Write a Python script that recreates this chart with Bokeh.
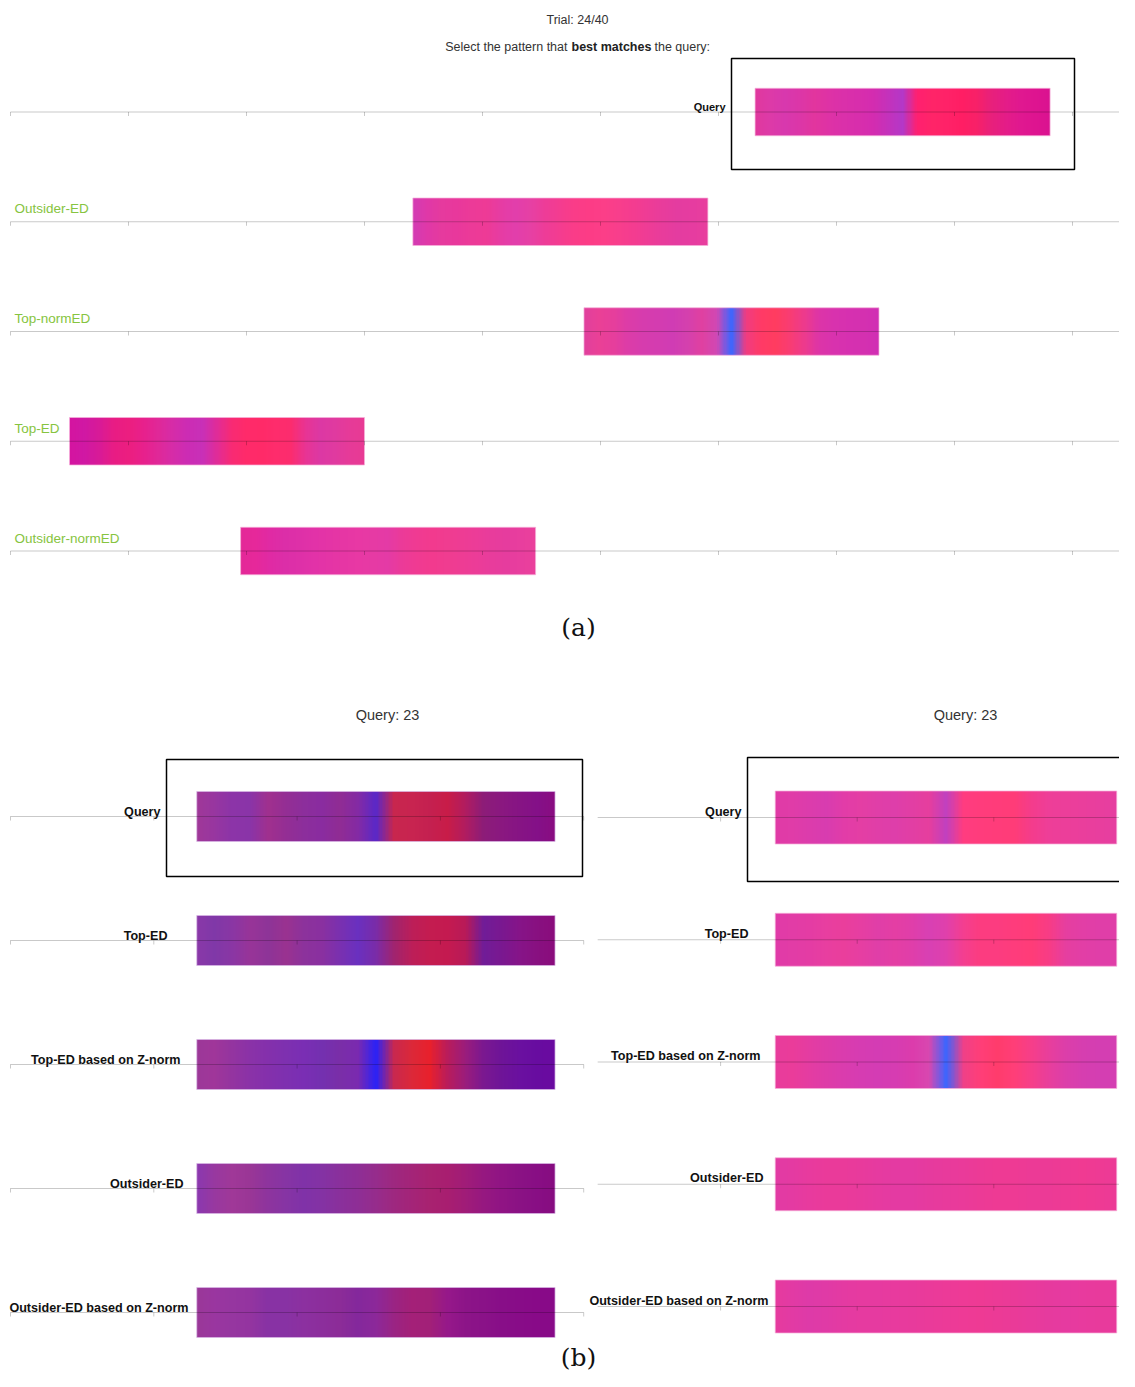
import numpy as np
from bokeh.plotting import figure
from bokeh.models import Range1d
from bokeh.core.properties import value
from bokeh.embed import file_html
from bokeh.resources import INLINE

# ---------------- data ----------------
TRIAL_TEXT = "Trial: 24/40"
QUERY_TITLE = "Query: 23"

# panel (a): rows top to bottom
A_LABELS = ["Query", "Outsider-ED", "Top-normED", "Top-ED", "Outsider-normED"]
A_STARTS = [631, 341, 486, 50, 195]
A_LENGTH = 250
A_TICKS = [0, 100, 200, 300, 400, 500, 600, 700, 800, 900]
A_AXIS_END = 953

A_COLORS = [
    # Query
    ["#E0389E", "#DD3AA8", "#D838AE", "#DC36A8", "#E2359E", "#DE32A6", "#DA30AA",
     "#D82EAC", "#D42CB0", "#C432BC", "#B438C8", "#FF2070", "#FF2468", "#FF2268",
     "#FF1E64", "#F82068", "#E8207C", "#E41C88", "#E01890", "#DE1490", "#DA1290"],
    # Outsider-ED
    ["#D23CB4", "#E038A8", "#E63A9E", "#E8389C", "#EC3A98", "#EE3A96", "#E63CA4",
     "#E23EAC", "#E640A4", "#EE3C98", "#F43C90", "#FA3C88", "#FC3C86", "#FC3E88",
     "#F83E8C", "#F43C90", "#EE3C96", "#E83C9C", "#E43CA0", "#E63CA0", "#E83E9E"],
    # Top-normED
    ["#E0409E", "#EA4096", "#E63E9C", "#DC3CA8", "#D63CAE", "#D43CB0", "#D03CB4",
     "#D440AE", "#E040A0", "#D048B4", "#3C66FF", "#F03C80", "#FF3A66", "#FF3C60",
     "#F83C74", "#EC3A8E", "#DC34A8", "#D832AE", "#D630B0", "#D430B0", "#D02EB4"],
    # Top-ED
    ["#D414A0", "#D018A4", "#D81A98", "#E81C84", "#EC1E80", "#E8208C", "#E02898",
     "#D62CA8", "#CC2CB4", "#C830B8", "#E02C98", "#F82A74", "#FF2A6A", "#FF2A68",
     "#FE2C6C", "#FC2C6E", "#E83494", "#DC38A4", "#E03AA0", "#E63A98", "#E83A94"],
    # Outsider-normED
    ["#E42898", "#E6289A", "#E02AA4", "#DC2EA8", "#DE30A8", "#E232A8", "#E434A6",
     "#E636A4", "#E838A4", "#E63AA4", "#E43AA6", "#EC3A98", "#F03A92", "#F23A8E",
     "#F03C90", "#EE3C94", "#EC3C98", "#E83C9C", "#E63C9E", "#E83E9E", "#EA409C"],
]

# panel (b): rows top to bottom (same labels in both columns)
B_LABELS = ["Query", "Top-ED", "Top-ED based on Z-norm", "Outsider-ED",
            "Outsider-ED based on Z-norm"]
BL_START = 130
BR_START = 140
B_LENGTH = 250
BL_TICKS = [0, 100, 200, 300, 400]
BR_TICKS = [100, 200, 300, 400]
BL_AXIS = (0, 400)
BR_AXIS = (10, 410)

BL_COLORS = [
    # Query
    ["#A03898", "#9836A0", "#8C34A8", "#8A34A8", "#A0308E", "#942E94", "#8C2E9C",
     "#8A2CA0", "#902C94", "#842AA4", "#5A28C8", "#C8264E", "#C82450", "#C42050",
     "#C81C48", "#B01C60", "#8C1C78", "#8A1880", "#861484", "#841088", "#8A0C80"],
    # Top-ED
    ["#8A38A8", "#8038A8", "#8A36A4", "#983498", "#8E3498", "#9A3290", "#8C329C",
     "#8A30A0", "#7A30B0", "#6A30C0", "#7A2CA8", "#A02470", "#BC1E58", "#C41C50",
     "#C41A50", "#B81A58", "#701C98", "#7A1890", "#861488", "#881080", "#8A0C7C"],
    # Top-ED based on Z-norm
    ["#9C3898", "#A0369A", "#9434A0", "#8A32A8", "#8430AC", "#7E30B0", "#7A2EB4",
     "#7430B0", "#7A2EA8", "#7A2AB0", "#2A22F8", "#C82850", "#DC2838", "#E8202C",
     "#B81C5C", "#9A1C7C", "#7A1890", "#6E1498", "#6A10A0", "#680CA0", "#6A0AA0"],
    # Outsider-ED
    ["#8A38B0", "#9838A0", "#A03898", "#9A3696", "#8E349E", "#8634A4", "#8032A8",
     "#8432A4", "#8A309C", "#8E2E96", "#962C8C", "#9E2880", "#A42478", "#A82270",
     "#A81E70", "#A01C78", "#961880", "#901484", "#8A1284", "#880E84", "#860C80"],
    # Outsider-ED based on Z-norm
    ["#9A3898", "#9A36A0", "#9636A0", "#9434A0", "#8832A4", "#8832A4", "#8C30A0",
     "#8C2E9C", "#8C2C98", "#84289C", "#8C289A", "#9A2484", "#A42078", "#A22078",
     "#96188A", "#8C1488", "#8A1288", "#880E88", "#880C88", "#880A88", "#880A88"],
]

BR_COLORS = [
    # Query
    ["#E03AA6", "#E03CA8", "#DC3CAC", "#D83CB0", "#E23CA8", "#E43EA4", "#E03EA8",
     "#DE3EAA", "#E23EA4", "#E63E9E", "#C040C0", "#FF3C80", "#FF3C7C", "#FF3C7A",
     "#FF3C78", "#F43C8C", "#EE3E98", "#EC3E9A", "#EA3E9C", "#E83E9E", "#E63EA0"],
    # Top-ED
    ["#E03AA8", "#E23CA6", "#E43CA4", "#E83EA0", "#EA3E9C", "#E63EA2", "#E03EA8",
     "#E43EA4", "#E03EAA", "#D840B4", "#E040AC", "#F43E90", "#FC3C80", "#FC3C80",
     "#FE3C7C", "#FF3C78", "#F83C86", "#E63EA0", "#E23EA6", "#E03EA8", "#E03EA8"],
    # Top-ED based on Z-norm
    ["#E83C9C", "#EA3C9A", "#E43CA2", "#DE3CA8", "#DA3CAE", "#D63CB2", "#D43CB4",
     "#D63CB2", "#DC3CAC", "#D848B0", "#3A66FF", "#F04088", "#FF3E78", "#FF3C6C",
     "#FF3E78", "#F63E8A", "#E83E9C", "#DC3EAA", "#D63EB0", "#D43EB2", "#D43EB2"],
    # Outsider-ED
    ["#E23AA4", "#E43AA2", "#E83A9E", "#EA3A9A", "#EA3A9A", "#E83A9C", "#E63AA0",
     "#E43AA2", "#E43AA2", "#E63A9E", "#E83A9C", "#EA3A9A", "#EC3A96", "#EE3A94",
     "#EE3A94", "#EC3A96", "#EC3A96", "#EE3A94", "#F03A92", "#EE3A94", "#EC3A96"],
    # Outsider-ED based on Z-norm
    ["#E63A9E", "#E23AA4", "#DE3AA8", "#E03AA6", "#E43AA2", "#E63AA0", "#E63AA0",
     "#E83A9E", "#E83A9C", "#EA3A9A", "#EC3A98", "#EE3A96", "#EE3A94", "#EC3A96",
     "#EA3A98", "#E83A9C", "#E63A9E", "#E63AA0", "#E83A9E", "#E83A9C", "#E83A9C"],
]

# ---------------- styling / layout ----------------
SANS = "Liberation Sans"
SERIF = "DejaVu Serif"
GREEN = "#86C440"
W, H = 1119, 1371


def strip_rgba(stops, n):
    rgb = np.array([[int(c[i:i + 2], 16) for i in (1, 3, 5)] for c in stops], float)
    pos = np.linspace(0.0, 1.0, len(stops))
    t = (np.arange(n) + 0.5) / n
    img = np.empty((2, n), dtype=np.uint32)
    view = img.view(dtype=np.uint8).reshape((2, n, 4))
    for k in range(3):
        view[:, :, k] = np.interp(t, pos, rgb[:, k]).round().astype(np.uint8)
    view[:, :, 3] = 255
    return img


def lin_range(px0, px_per_unit):
    """Range whose data value 0 sits at picture x px0, over the whole width."""
    return Range1d((0 - px0) / px_per_unit, (W - px0) / px_per_unit)


def row_range(first_line_y, spacing, n):
    # row value v = n-1-i ; row i sits at picture y first_line_y + spacing*i
    top = (n - 1) + first_line_y / spacing
    bottom = (n - 1) - (H - first_line_y) / spacing
    return Range1d(bottom, top)


p = figure(width=W, height=H, x_range=Range1d(0, W), y_range=Range1d(H, 0),
           output_backend="svg", toolbar_location=None, tools="", min_border=0,
           x_axis_location=None, y_axis_location=None)
p.grid.visible = False
p.outline_line_color = None
p.background_fill_color = "white"
p.border_fill_color = "white"

A_SPACING, BL_SPACING, BR_SPACING = 109.75, 124.0, 122.25
p.extra_x_ranges = {
    "a": lin_range(10, 1.18),
    "bl": lin_range(10, 1.433),
    "br": lin_range(583.5, 1.366),
}
p.extra_y_ranges = {
    "a": row_range(111.5, A_SPACING, len(A_LABELS)),
    "bl": row_range(816, BL_SPACING, len(B_LABELS)),
    "br": row_range(817, BR_SPACING, len(B_LABELS)),
}


def draw_panel(name, starts, length, colors, ticks, axis_x0, axis_x1,
               strip_px, spacing, outline):
    n = len(colors)
    rows = [n - 1 - i for i in range(n)]
    h = strip_px / spacing
    imgs = [strip_rgba(c, length) for c in colors]
    p.image_rgba(image=imgs, x=starts, y=[r - h / 2 for r in rows],
                 dw=[length] * n, dh=[h] * n, x_range_name=name, y_range_name=name)
    p.quad(left=starts, right=[s + length for s in starts],
           bottom=[r - h / 2 for r in rows], top=[r + h / 2 for r in rows],
           fill_color=None, line_color=outline, line_alpha=0.7, line_width=1,
           x_range_name=name, y_range_name=name)
    p.segment(x0=[axis_x0] * n, x1=[axis_x1] * n, y0=rows, y1=rows,
              line_color="black", line_alpha=0.21, line_width=1,
              x_range_name=name, y_range_name=name)
    tl = 4.0 / spacing
    tx = [t for r in rows for t in ticks]
    ty = [r for r in rows for t in ticks]
    p.segment(x0=tx, x1=tx, y0=ty, y1=[y - tl for y in ty],
              line_color="black", line_alpha=0.21, line_width=1,
              x_range_name=name, y_range_name=name)
    return rows


# ---- panel (a) ----
p.text(x=[577], y=[19], text=[TRIAL_TEXT], text_font=value(SANS),
       text_font_size="12.5px", text_color="#333333", text_align="center",
       text_baseline="middle")
p.text(x=[567], y=[46], text=["Select the pattern that"], text_font=value(SANS),
       text_font_size="12.5px", text_color="#333333", text_align="right",
       text_baseline="middle")
p.text(x=[571], y=[46], text=["best matches"], text_font=value(SANS),
       text_font_size="12.5px", text_font_style="bold", text_color="#222222",
       text_align="left", text_baseline="middle")
p.text(x=[654], y=[46], text=["the query:"], text_font=value(SANS),
       text_font_size="12.5px", text_color="#333333", text_align="left",
       text_baseline="middle")

p.quad(left=[731], right=[1074], top=[58], bottom=[169], fill_color=None,
       line_color="black", line_width=1.5)

a_rows = draw_panel("a", A_STARTS, A_LENGTH, A_COLORS, A_TICKS, 0, A_AXIS_END,
                    47.5, A_SPACING, "#F6B0DA")

p.text(x=[725], y=[a_rows[0]], text=[A_LABELS[0]], text_font=value(SANS),
       text_font_size="11px", text_font_style="bold", text_color="#111111",
       text_align="right", text_baseline="middle", y_offset=-5,
       y_range_name="a")
p.text(x=[14] * (len(A_LABELS) - 1), y=a_rows[1:], text=A_LABELS[1:],
       text_font=value(SANS), text_font_size="13.5px", text_color=GREEN,
       text_align="left", text_baseline="middle", y_offset=-13,
       y_range_name="a")

p.text(x=[578], y=[627], text=["(a)"], text_font=value(SERIF),
       text_font_size="25px", text_color="#111111", text_align="center",
       text_baseline="middle")

# ---- panel (b) ----
p.text(x=[387, 965], y=[714, 714], text=[QUERY_TITLE, QUERY_TITLE],
       text_font=value(SANS), text_font_size="14.5px", text_color="#333333",
       text_align="center", text_baseline="middle")
p.quad(left=[166, 747], right=[582, 1160], top=[759, 757], bottom=[876, 881],
       fill_color=None, line_color="black", line_width=1.5)

bl_rows = draw_panel("bl", [BL_START] * len(B_LABELS), B_LENGTH, BL_COLORS,
                     BL_TICKS, BL_AXIS[0], BL_AXIS[1], 50, BL_SPACING, "#D9B8E6")
br_rows = draw_panel("br", [BR_START] * len(B_LABELS), B_LENGTH, BR_COLORS,
                     BR_TICKS, BR_AXIS[0], BR_AXIS[1], 53, BR_SPACING, "#F6B0DA")

BL_LABEL_X = [160, 167, 180, 183, 188]
BR_LABEL_X = [741, 748, 760, 763, 768]
p.text(x=BL_LABEL_X, y=bl_rows, text=B_LABELS, text_font=value(SANS),
       text_font_size="12.6px", text_font_style="bold", text_color="#111111",
       text_align="right", text_baseline="middle", y_offset=-5,
       y_range_name="bl")
p.text(x=BR_LABEL_X, y=br_rows, text=B_LABELS, text_font=value(SANS),
       text_font_size="12.6px", text_font_style="bold", text_color="#111111",
       text_align="right", text_baseline="middle", y_offset=-6,
       y_range_name="br")

p.text(x=[578], y=[1357], text=["(b)"], text_font=value(SERIF),
       text_font_size="25px", text_color="#111111", text_align="center",
       text_baseline="middle")

open("out.html", "w").write(file_html(p, INLINE))
